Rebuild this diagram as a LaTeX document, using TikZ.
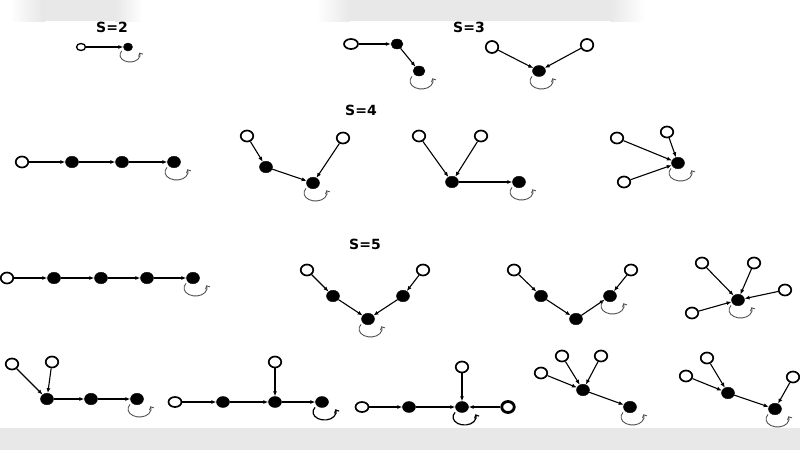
\documentclass[tikz,border=0pt]{standalone}
\usepackage{fontspec}
\setmainfont{DejaVu Sans}
\usetikzlibrary{shapes.geometric,arrows.meta}
\tikzset{
  onode/.style={draw, line width=1.7pt, fill=white, ellipse, minimum width=12.5pt, minimum height=11pt, inner sep=0pt},
  fnode/.style={draw, fill=black, ellipse, minimum width=13pt, minimum height=11.5pt, inner sep=0pt},
  thicko/.style={onode, line width=2.8pt},
  smallo/.style={onode, line width=1.3pt, minimum width=9pt, minimum height=7pt},
  smallf/.style={fnode, minimum width=9pt, minimum height=8pt},
  arr/.style={-{Latex[length=5pt,width=4pt]}, line width=1.1pt},
  loopline/.style={draw=black!70, line width=0.85pt, -{Straight Barb[length=2.5pt,width=5pt]}},
  ttl/.style={font=\bfseries\fontsize{14}{16}\selectfont, inner sep=0pt},
  band/.style={fill=black!9, draw=none}
}
\newcommand\mkloop[2][]{\draw[loopline,#1] ([shift={(2.5,-10)}]#2.center) ++(145:11.5 and 8) arc[start angle=145,end angle=380,x radius=11.5,y radius=8];}
\begin{document}
\begin{tikzpicture}[x=1pt,y=1pt]
\useasboundingbox (0,0) rectangle (800,-450);
\fill[white] (0,0) rectangle (800,-450);
% background bands
\shade[left color=white, right color=black!10, draw=none] (10,0) rectangle (45,-21);
\fill[band] (45,0) rectangle (115,-21);
\shade[left color=black!9, right color=white, draw=none] (115,0) rectangle (143,-21);
\shade[left color=white, right color=black!9, draw=none] (316,0) rectangle (350,-21);
\fill[band] (350,0) rectangle (610,-21);
\shade[left color=black!9, right color=white, draw=none] (610,0) rectangle (645,-21);
\fill[band] (0,-428) rectangle (800,-450);

% titles
\node[ttl] (t2) at (112,-27) {S=2};
\node[ttl] (t3) at (469,-27) {S=3};
\node[ttl] (t4) at (361,-110) {S=4};
\node[ttl] (t5) at (365,-244) {S=5};

% S=2
\node[smallo] (a1) at (81,-47) {};
\node[smallf] (a2) at (128,-47) {};
\draw[arr] (a1) -- (a2);
\draw[loopline] ([shift={(2,-8)}]a2.center) ++(145:10 and 7) arc[start angle=145,end angle=380,x radius=10,y radius=7];

% S=3 chain
\node[onode, minimum width=14pt, minimum height=10pt] (b1) at (351,-44) {};
\node[fnode, minimum width=12pt, minimum height=10pt] (b2) at (397,-44) {};
\node[fnode, minimum width=12pt, minimum height=10pt] (b3) at (419,-71) {};
\draw[arr] (b1) -- (b2);
\draw[arr] (b2) -- (b3);
\mkloop{b3}

% S=3 V
\node[onode, minimum height=12pt] (c1) at (492,-47) {};
\node[onode, minimum height=12pt] (c2) at (587,-45) {};
\node[fnode, minimum height=11pt] (c3) at (539,-71) {};
\draw[arr] (c1) -- (c3);
\draw[arr] (c2) -- (c3);
\mkloop{c3}

% S=4 chain
\node[onode] (d1) at (22,-162) {};
\node[fnode] (d2) at (72,-162) {};
\node[fnode] (d3) at (122,-162) {};
\node[fnode] (d4) at (174,-162) {};
\draw[arr] (d1) -- (d2);
\draw[arr] (d2) -- (d3);
\draw[arr] (d3) -- (d4);
\mkloop{d4}

% S=4 graph 2
\node[onode] (e1) at (247,-136) {};
\node[onode] (e2) at (343,-138) {};
\node[fnode] (e3) at (266,-167) {};
\node[fnode] (e4) at (313,-183) {};
\draw[arr] (e1) -- (e3);
\draw[arr] (e3) -- (e4);
\draw[arr] (e2) -- (e4);
\mkloop{e4}

% S=4 graph 3
\node[onode] (g1) at (419,-136) {};
\node[onode] (g2) at (481,-136) {};
\node[fnode] (g3) at (452,-182) {};
\node[fnode] (g4) at (519,-182) {};
\draw[arr] (g1) -- (g3);
\draw[arr] (g2) -- (g3);
\draw[arr] (g3) -- (g4);
\mkloop{g4}

% S=4 graph 4
\node[onode] (h1) at (617,-138) {};
\node[onode] (h2) at (667,-132) {};
\node[onode] (h3) at (624,-182) {};
\node[fnode] (h4) at (678,-163) {};
\draw[arr] (h1) -- (h4);
\draw[arr] (h2) -- (h4);
\draw[arr] (h3) -- (h4);
\mkloop{h4}

% S=5 chain
\node[onode] (i1) at (7,-278) {};
\node[fnode] (i2) at (54,-278) {};
\node[fnode] (i3) at (101,-278) {};
\node[fnode] (i4) at (147,-278) {};
\node[fnode] (i5) at (193,-278) {};
\draw[arr] (i1) -- (i2);
\draw[arr] (i2) -- (i3);
\draw[arr] (i3) -- (i4);
\draw[arr] (i4) -- (i5);
\mkloop{i5}

% S=5 graph 2
\node[onode] (j1) at (307,-270) {};
\node[fnode] (j2) at (333,-296) {};
\node[fnode] (j3) at (368,-319) {};
\node[fnode] (j4) at (403,-296) {};
\node[onode] (j5) at (423,-270) {};
\draw[arr] (j1) -- (j2);
\draw[arr] (j2) -- (j3);
\draw[arr] (j5) -- (j4);
\draw[arr] (j4) -- (j3);
\mkloop{j3}

% S=5 graph 3
\node[onode] (k1) at (514,-270) {};
\node[fnode] (k2) at (541,-296) {};
\node[fnode] (k3) at (576,-319) {};
\node[fnode] (k4) at (610,-296) {};
\node[onode] (k5) at (631,-270) {};
\draw[arr] (k1) -- (k2);
\draw[arr] (k2) -- (k3);
\draw[arr] (k3) -- (k4);
\draw[arr] (k5) -- (k4);
\mkloop{k4}

% S=5 graph 4
\node[onode] (l1) at (702,-263) {};
\node[onode] (l2) at (754,-263) {};
\node[onode] (l3) at (785,-290) {};
\node[onode] (l4) at (692,-313) {};
\node[fnode] (l5) at (738,-300) {};
\draw[arr] (l1) -- (l5);
\draw[arr] (l2) -- (l5);
\draw[arr] (l3) -- (l5);
\draw[arr] (l4) -- (l5);
\mkloop{l5}

% bottom graph 1
\node[onode] (m1) at (12,-364) {};
\node[onode] (m2) at (52,-362) {};
\node[fnode] (m3) at (47,-399) {};
\node[fnode] (m4) at (91,-399) {};
\node[fnode] (m5) at (137,-399) {};
\draw[arr] (m1) -- (m3);
\draw[arr] (m2) -- (m3);
\draw[arr] (m3) -- (m4);
\draw[arr] (m4) -- (m5);
\mkloop{m5}

% bottom graph 2
\node[onode, minimum width=13pt, minimum height=10pt] (n1) at (175,-402) {};
\node[fnode, minimum height=11pt] (n2) at (223,-402) {};
\node[fnode, minimum height=11pt] (n3) at (275,-402) {};
\node[onode] (n4) at (275,-362) {};
\node[fnode, minimum height=11pt] (n5) at (322,-402) {};
\draw[arr] (n1) -- (n2);
\draw[arr] (n2) -- (n3);
\draw[arr] (n4) -- (n3);
\draw[arr] (n3) -- (n5);
\mkloop[draw=black, line width=1.2pt]{n5}

% bottom graph 3
\node[onode, minimum width=13pt, minimum height=10pt] (p1) at (362,-407) {};
\node[fnode, minimum height=11pt] (p2) at (409,-407) {};
\node[fnode, minimum height=11pt] (p3) at (462,-407) {};
\node[onode] (p4) at (462,-367) {};
\node[thicko] (p5) at (508,-407) {};
\draw[arr] (p1) -- (p2);
\draw[arr] (p2) -- (p3);
\draw[arr] (p4) -- (p3);
\draw[arr] (p5) -- (p3);
\mkloop[draw=black, line width=1.2pt]{p3}

% bottom graph 4
\node[onode] (q1) at (541,-373) {};
\node[onode] (q2) at (562,-356) {};
\node[onode] (q3) at (601,-356) {};
\node[fnode] (q4) at (583,-390) {};
\node[fnode] (q5) at (630,-407) {};
\draw[arr] (q1) -- (q4);
\draw[arr] (q2) -- (q4);
\draw[arr] (q3) -- (q4);
\draw[arr] (q4) -- (q5);
\mkloop{q5}

% bottom graph 5
\node[onode] (r1) at (686,-376) {};
\node[onode] (r2) at (707,-358) {};
\node[onode] (r3) at (793,-377) {};
\node[fnode] (r4) at (728,-393) {};
\node[fnode] (r5) at (775,-409) {};
\draw[arr] (r1) -- (r4);
\draw[arr] (r2) -- (r4);
\draw[arr] (r4) -- (r5);
\draw[arr] (r3) -- (r5);
\mkloop{r5}
\end{tikzpicture}
\end{document}
